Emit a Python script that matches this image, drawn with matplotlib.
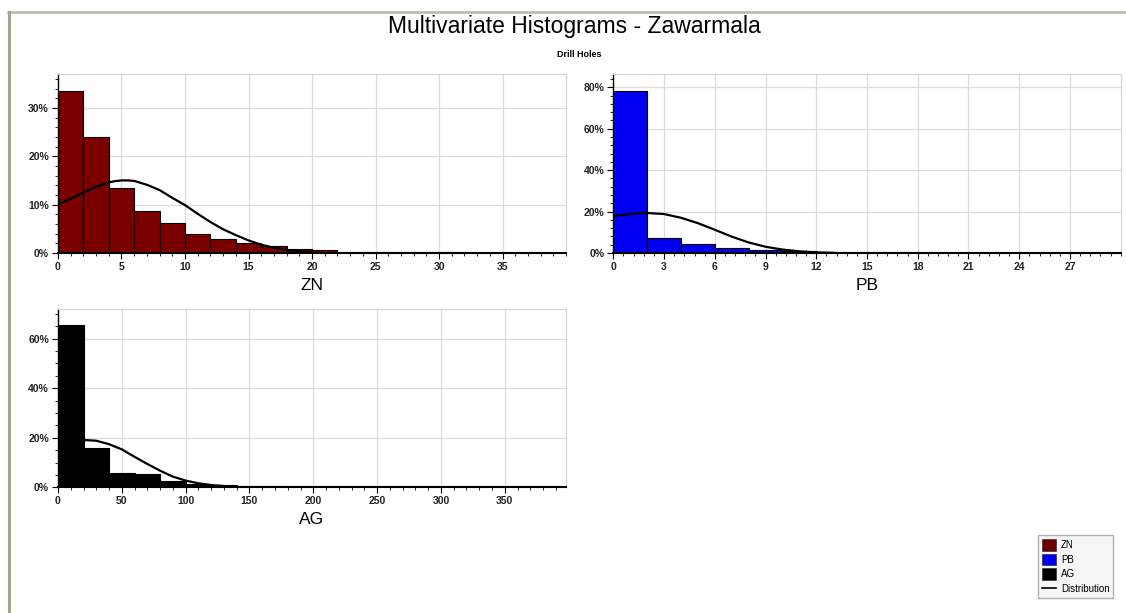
import numpy as np
import matplotlib
matplotlib.use("Agg")
import matplotlib.pyplot as plt
from matplotlib.ticker import FuncFormatter, MultipleLocator
from matplotlib.lines import Line2D
from matplotlib.patches import Patch

plt.rcParams['font.family'] = ['Liberation Sans', 'DejaVu Sans']

# ZN histogram (bin width 2), percent of samples
zn_edges = np.arange(0, 34, 2)
zn_pct = [33.5, 24.0, 13.4, 8.7, 6.1, 4.0, 2.9, 2.0, 1.4, 0.8, 0.6, 0.3, 0.25, 0.2, 0.12, 0.12]
zn_curve_x = [0, 1, 2, 3, 4, 4.5, 5, 5.5, 6, 7, 8, 9, 10, 11, 12, 13, 14, 15, 16, 17, 18, 19, 20]
zn_curve_y = [10.0, 11.2, 12.5, 13.7, 14.6, 14.85, 15.0, 15.0, 14.9, 14.1, 13.0, 11.4, 9.9, 8.1,
              6.4, 4.9, 3.7, 2.6, 1.7, 1.1, 0.6, 0.35, 0.2]

# PB histogram (bin width 2)
pb_edges = np.arange(0, 32, 2)
pb_pct = [78.4, 7.3, 4.2, 2.4, 1.6, 1.1, 0.6, 0.5, 0.4, 0.15, 0.15, 0.12, 0.1, 0.0, 0.15]
pb_curve_x = [0, 1, 2, 3, 4, 5, 6, 7, 8, 9, 10, 11, 12, 13]
pb_curve_y = [17.9, 18.8, 19.3, 18.8, 17.0, 14.4, 11.2, 7.9, 5.1, 3.0, 1.65, 0.8, 0.3, 0.1]

# AG histogram (bin width 20)
ag_edges = np.arange(0, 260, 20)
ag_pct = [65.6, 16.0, 5.9, 5.2, 2.6, 1.4, 1.0, 0.7, 0.55, 0.25, 0.25, 0.25]
ag_curve_x = [0, 10, 20, 30, 40, 50, 60, 70, 80, 90, 100, 110, 120, 130, 140]
ag_curve_y = [16.6, 18.3, 19.1, 18.8, 17.4, 15.3, 12.3, 9.4, 6.7, 4.3, 2.7, 1.6, 0.9, 0.5, 0.2]

panels = [
    dict(name='ZN', edges=zn_edges, pct=zn_pct, cx=zn_curve_x, cy=zn_curve_y,
         color='#7a0000', xlim=40, xmaj=5, xmin=1, xmaxlab=35, ylim=37, ymaj=10, ymin=2,
         pos=[0.0515, 0.5873, 0.4512, 0.292]),
    dict(name='PB', edges=pb_edges, pct=pb_pct, cx=pb_curve_x, cy=pb_curve_y,
         color='#0000f0', xlim=30, xmaj=3, xmin=0.6, xmaxlab=27, ylim=86.4, ymaj=20, ymin=4,
         pos=[0.5447, 0.5873, 0.4506, 0.292]),
    dict(name='AG', edges=ag_edges, pct=ag_pct, cx=ag_curve_x, cy=ag_curve_y,
         color='#000000', xlim=398, xmaj=50, xmin=10, xmaxlab=350, ylim=72, ymaj=20, ymin=5,
         pos=[0.0515, 0.2051, 0.4512, 0.2908]),
]

fig = plt.figure(figsize=(11.26, 6.13), dpi=100)

for p in panels:
    ax = fig.add_axes(p['pos'])
    edges = p['edges']
    ax.bar(edges[:-1], p['pct'], width=np.diff(edges), align='edge',
           color=p['color'], edgecolor='black', linewidth=0.8, zorder=2)
    ax.plot(p['cx'], p['cy'], color='black', lw=1.6, zorder=3)
    ax.set_xlim(0, p['xlim'])
    ax.set_ylim(0, p['ylim'])
    ax.set_xticks(np.arange(0, p['xmaxlab'] + 0.01, p['xmaj']))
    ax.xaxis.set_minor_locator(MultipleLocator(p['xmin']))
    ax.yaxis.set_major_locator(MultipleLocator(p['ymaj']))
    ax.yaxis.set_minor_locator(MultipleLocator(p['ymin']))
    ax.yaxis.set_major_formatter(FuncFormatter(lambda v, pos: '%d%%' % round(v)))
    ax.grid(True, which='major', color='#dcdcdc', lw=0.9, zorder=0)
    ax.set_axisbelow(True)
    ax.tick_params(which='major', length=4, width=0.8, labelsize=7.5, direction='out', pad=2.5)
    ax.tick_params(which='minor', length=2, width=0.6, direction='out')
    for lab in ax.get_xticklabels() + ax.get_yticklabels():
        lab.set_fontweight('bold')
        lab.set_color('#222222')
    for s in ['top', 'right']:
        ax.spines[s].set_color('#d4d4d4')
    ax.spines['left'].set_linewidth(1.0)
    ax.spines['bottom'].set_linewidth(1.5)
    ax.set_xlabel(p['name'], fontsize=12.5, labelpad=4)

fig.text(0.51, 0.957, 'Multivariate Histograms - Zawarmala', ha='center', va='center', fontsize=16.5)
fig.text(0.514, 0.911, 'Drill Holes', ha='center', va='center', fontsize=6.5, fontweight='bold')

# legend
handles = [Patch(facecolor='#6a0000', edgecolor='#333333', lw=0.5),
           Patch(facecolor='#0000f0', edgecolor='#333333', lw=0.5),
           Patch(facecolor='black', edgecolor='#333333', lw=0.5),
           Line2D([0], [0], color='black', lw=1.2)]
fig.legend(handles, ['ZN', 'PB', 'AG', 'Distribution'], loc='lower right',
           bbox_to_anchor=(0.993, 0.016), fontsize=7, frameon=True, fancybox=False,
           edgecolor='#b0b0b0', facecolor='#f6f6f6', framealpha=1,
           handlelength=1.5, handleheight=1.5, labelspacing=0.3, borderpad=0.35,
           handletextpad=0.5)

# frame lines of the original window
fig.add_artist(Line2D([8 / 1126, 1], [1 - 12 / 613, 1 - 12 / 613], color='#b8b8a4', lw=1.8,
                      transform=fig.transFigure))
fig.add_artist(Line2D([9 / 1126, 9 / 1126], [0, 1 - 12 / 613], color='#a4a48c', lw=2.2,
                      transform=fig.transFigure))

fig.savefig('out.png', dpi=100)
